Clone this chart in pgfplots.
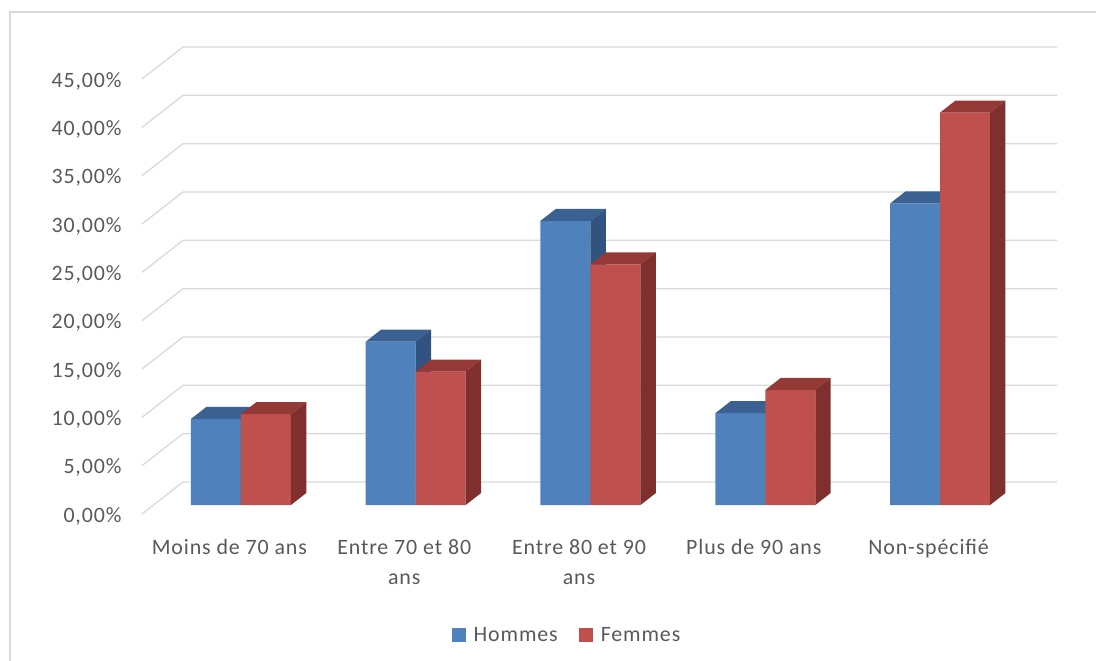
\documentclass[border=0pt]{standalone}
\usepackage{pgfplots}
\usepackage{pgfplotstable}
\pgfplotsset{compat=1.18}
\usepackage{fontspec}
\setmainfont{Carlito}[LetterSpace=4]

\definecolor{txt}{HTML}{595959}
\definecolor{gridc}{HTML}{D9D9D9}
\definecolor{hf}{HTML}{4F81BD}
\definecolor{ht}{HTML}{3B6192}
\definecolor{hs}{HTML}{30547F}
\definecolor{ff}{HTML}{C0504D}
\definecolor{ft}{HTML}{953937}
\definecolor{fs}{HTML}{7E2F2E}

% share of each age group, in %
\pgfplotstableread{
cat h    f
0   8.9  9.4
1   16.9 13.8
2   29.4 24.9
3   9.5  11.9
4   31.2 40.6
}\data

% oblique depth: back wall offset, bar depth span, bar width
\def\dx{0.2346}
\def\dy{3.31}
\def\fa{0.28}
\def\fb{0.656}
\def\bw{0.286}

\newcommand{\cuboid}[5]{%
  \pgfmathsetmacro\cbXa{#1+\fa*\dx}%
  \pgfmathsetmacro\cbXb{\cbXa+\bw}%
  \pgfmathsetmacro\cbYa{\fa*\dy}%
  \pgfmathsetmacro\cbYt{\cbYa+#2}%
  \pgfmathsetmacro\cbXc{\cbXa+(\fb-\fa)*\dx}%
  \pgfmathsetmacro\cbXd{\cbXb+(\fb-\fa)*\dx}%
  \pgfmathsetmacro\cbYb{\cbYa+(\fb-\fa)*\dy}%
  \pgfmathsetmacro\cbYu{\cbYt+(\fb-\fa)*\dy}%
  \edef\tmp{%
    \noexpand\addplot[forget plot, draw=none, fill=#3] coordinates
      {(\cbXa,\cbYa) (\cbXb,\cbYa) (\cbXb,\cbYt) (\cbXa,\cbYt) (\cbXa,\cbYa)};
    \noexpand\addplot[forget plot, draw=none, fill=#4] coordinates
      {(\cbXa,\cbYt) (\cbXb,\cbYt) (\cbXd,\cbYu) (\cbXc,\cbYu) (\cbXa,\cbYt)};
    \noexpand\addplot[forget plot, draw=none, fill=#5] coordinates
      {(\cbXb,\cbYa) (\cbXd,\cbYb) (\cbXd,\cbYu) (\cbXb,\cbYt) (\cbXb,\cbYa)};
  }\tmp
}

\begin{document}
\begin{tikzpicture}
\useasboundingbox (0,0) rectangle (1096bp,661bp);
\draw[gridc, line width=1.3bp] (10bp,0) -- (10bp,649bp) -- (1096bp,649bp);
\begin{axis}[
    at={(142bp,147bp)}, anchor=south west,
    scale only axis,
    width=915bp, height=467bp,
    xmin=-0.5, xmax=4.7346,
    ymin=0, ymax=48.31,
    clip=false,
    axis line style={draw=none},
    major tick length=0,
    font=\fontsize{22}{30}\selectfont,
    ticklabel style={text=txt},
    xtick={0,...,4},
    xticklabels={Moins de 70 ans, {Entre 70 et 80\\ans}, {Entre 80 et 90\\ans}, Plus de 90 ans, Non-spécifié},
    xticklabel style={align=center, anchor=north, yshift=-22bp},
    ytick={0,5,...,45},
    yticklabels={{0,00\%},{5,00\%},{10,00\%},{15,00\%},{20,00\%},{25,00\%},{30,00\%},{35,00\%},{40,00\%},{45,00\%}},
    yticklabel style={anchor=east, xshift=-17bp, yshift=-2bp},
    legend columns=2,
    legend style={at={(0.4645,-0.259)}, anchor=center, draw=none, fill=none,
        font=\fontsize{22}{26}\selectfont, text=txt,
        /tikz/every even column/.append style={column sep=19bp}},
]
\pgfplotsforeachungrouped \v in {0,5,...,45}{%
  \pgfmathsetmacro\vb{\v+\dy}%
  \pgfmathsetmacro\xl{-0.5+\dx}%
  \edef\tmp{\noexpand\addplot[forget plot, gridc, line width=1.3bp] coordinates
     {(-0.5,\v) (\xl,\vb) (4.7346,\vb)};}\tmp
}
\pgfplotsforeachungrouped \i in {0,...,4}{%
  \pgfplotstablegetelem{\i}{h}\of\data \let\vh\pgfplotsretval
  \pgfplotstablegetelem{\i}{f}\of\data \let\vf\pgfplotsretval
  \pgfmathsetmacro\xlb{\i-\bw}%
  \cuboid{\xlb}{\vh}{hf}{ht}{hs}%
  \cuboid{\i}{\vf}{ff}{ft}{fs}%
}
\addlegendimage{legend image code/.code={\fill[hf, draw=none] (0bp,-7bp) rectangle (14bp,7bp); \path[draw=none, fill=none] (0bp,0bp) -- (20bp,0bp);}}
\addlegendentry{Hommes}
\addlegendimage{legend image code/.code={\fill[ff, draw=none] (0bp,-7bp) rectangle (14bp,7bp); \path[draw=none, fill=none] (0bp,0bp) -- (20bp,0bp);}}
\addlegendentry{Femmes}
\end{axis}
\end{tikzpicture}
\end{document}
